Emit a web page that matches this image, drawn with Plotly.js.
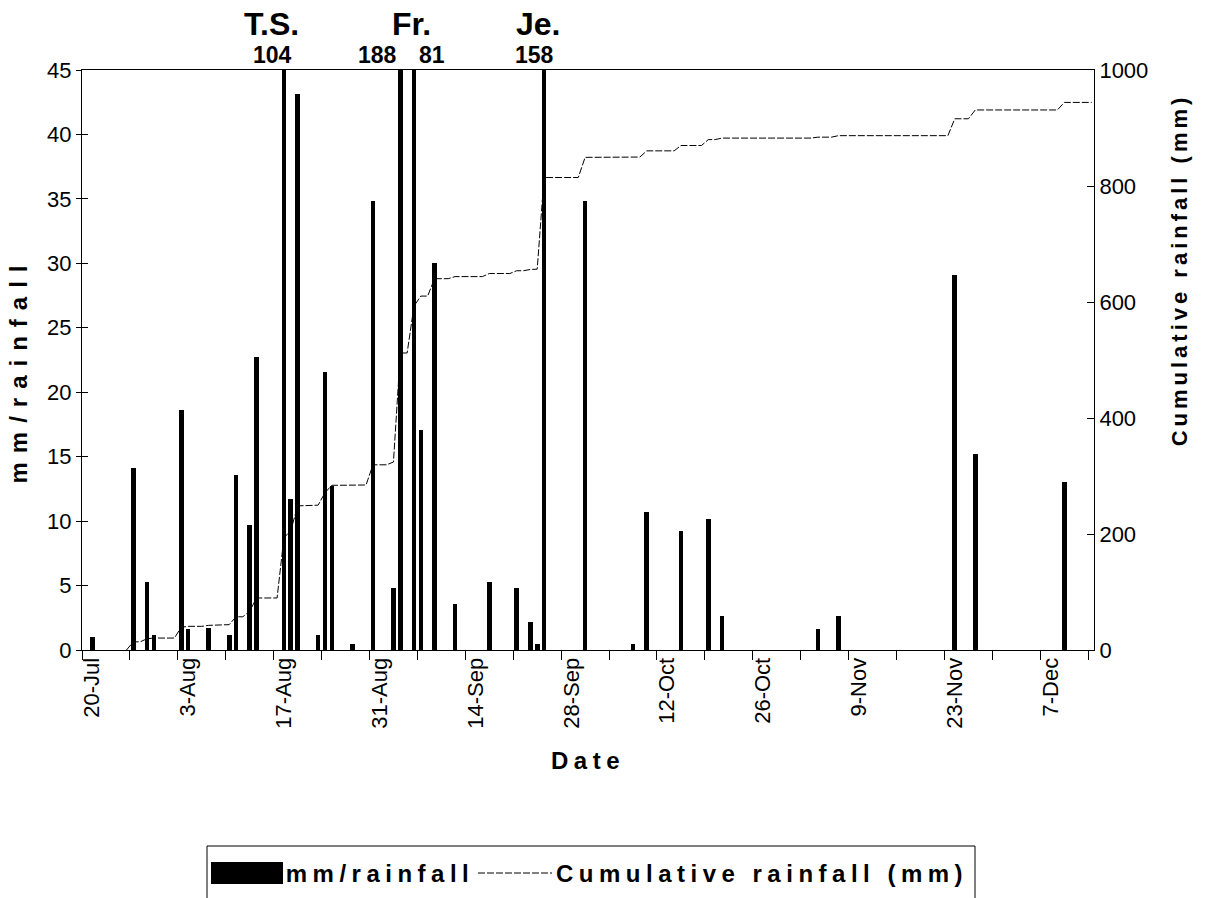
<!DOCTYPE html>
<html>
<head>
<meta charset="utf-8">
<script src="https://cdn.plot.ly/plotly-3.0.1.min.js"></script>
<style>
html,body{margin:0;padding:0;background:#fff;}
#chart{width:1208px;height:898px;}
</style>
</head>
<body>
<div id="chart"></div>
<script>
// ---------------- DATA ----------------
const rainDates = [
  '2004-07-20','2004-07-26','2004-07-28','2004-07-29','2004-08-02','2004-08-03',
  '2004-08-06','2004-08-09','2004-08-10','2004-08-12','2004-08-13','2004-08-17',
  '2004-08-18','2004-08-19','2004-08-22','2004-08-23','2004-08-24','2004-08-27',
  '2004-08-30','2004-09-02','2004-09-03','2004-09-05','2004-09-06','2004-09-08',
  '2004-09-11','2004-09-16','2004-09-20','2004-09-22','2004-09-23','2004-09-24',
  '2004-09-30','2004-10-07','2004-10-09','2004-10-14','2004-10-18','2004-10-20',
  '2004-11-03','2004-11-06','2004-11-23','2004-11-26','2004-12-09'
];
const rainMm = [
  1.0, 14.1, 5.3, 1.2, 18.6, 1.6,
  1.7, 1.2, 13.6, 9.7, 22.7, 104,
  11.7, 43.1, 1.2, 21.6, 12.7, 0.5,
  34.8, 4.8, 188, 81, 17.1, 30.0,
  3.6, 5.3, 4.8, 2.2, 0.5, 158,
  34.8, 0.5, 10.7, 9.2, 10.2, 2.6,
  1.6, 2.6, 29.1, 15.2, 13.0
];
// cumulative total is accumulated over this period
const cumStartDate = '2004-07-25';
const cumEndDate = '2004-12-13';

const tickDates = ['2004-07-20','2004-08-03','2004-08-17','2004-08-31','2004-09-14','2004-09-28',
                   '2004-10-12','2004-10-26','2004-11-09','2004-11-23','2004-12-07'];
const tickLabels = ['20-Jul','3-Aug','17-Aug','31-Aug','14-Sep','28-Sep',
                    '12-Oct','26-Oct','9-Nov','23-Nov','7-Dec'];

const stormNames = ['T.S.','Fr.','Je.'];
const stormDates = ['2004-08-17','2004-09-04','2004-09-24'];

// ---------------- LAYOUT HELPERS ----------------
const W = 1208, H = 898;
const PL = 82, PR = 1094, PT = 70, PB = 650;   // plot area in px
const px2x = p => (p - PL) / (PR - PL);
const px2y = p => (PB - p) / (PB - PT);
const DAY = 86400000;
const YMAX = 45;

// over-range label offsets (px) for bars clipped at the top
const overShift = [-11, -23, 18, -10];
const stormShift = [-12, 4, -6];

// cumulative series (daily running total)
const cumDates = [], cumVals = [];
{
  const rainByDay = {};
  rainDates.forEach((d, i) => rainByDay[d] = rainMm[i]);
  let t = new Date(cumStartDate + 'T00:00:00Z').getTime();
  const tEnd = new Date(cumEndDate + 'T00:00:00Z').getTime();
  let total = 0;
  while (t <= tEnd) {
    const ds = new Date(t).toISOString().slice(0, 10);
    total += rainByDay[ds] || 0;
    cumDates.push(ds);
    cumVals.push(total);
    t += DAY;
  }
}

const FONT = 'Liberation Sans, Arial, sans-serif';
const CUM_DASH = '7px,2px';

const traces = [
  {
    type: 'bar', name: 'mm/rainfall',
    x: rainDates, y: rainMm,
    width: 0.68 * DAY,
    marker: {color: '#000', line: {width: 0}},
    yaxis: 'y', showlegend: false
  },
  {
    type: 'scatter', mode: 'lines', name: 'Cumulative rainfall (mm)',
    x: cumDates, y: cumVals, yaxis: 'y2',
    line: {color: '#000', width: 1, dash: CUM_DASH},
    cliponaxis: true,
    showlegend: false
  },
  // empty helper trace so the inner tick marks of the left axis are drawn
  {type: 'scatter', mode: 'markers', x: [], y: [], yaxis: 'y3', showlegend: false, hoverinfo: 'skip'}
];

const annotations = [];
let k = 0;
rainDates.forEach((d, i) => {
  if (rainMm[i] > YMAX) {
    annotations.push({
      xref: 'x', yref: 'paper', x: d, y: 1, yanchor: 'bottom', xanchor: 'center',
      text: String(rainMm[i]), showarrow: false, xshift: overShift[k++], yshift: 0,
      font: {family: FONT, size: 23, color: '#000', weight: 'bold'}
    });
  }
});
stormNames.forEach((n, i) => {
  annotations.push({
    xref: 'x', yref: 'paper', x: stormDates[i], y: 1, yanchor: 'bottom', xanchor: 'center',
    text: n, showarrow: false, xshift: stormShift[i], yshift: 26,
    font: {family: FONT, size: 32, color: '#000', weight: 'bold'}
  });
});
// legend texts
annotations.push({
  xref: 'paper', yref: 'paper', x: px2x(380), y: px2y(873), xanchor: 'center', yanchor: 'middle',
  text: traces[0].name, showarrow: false,
  font: {family: FONT, size: 24, color: '#000', weight: 'bold'}
});
annotations.push({
  xref: 'paper', yref: 'paper', x: px2x(762), y: px2y(873), xanchor: 'center', yanchor: 'middle',
  text: traces[1].name, showarrow: false,
  font: {family: FONT, size: 24, color: '#000', weight: 'bold'}
});

const shapes = [
  {type: 'rect', xref: 'paper', yref: 'paper', x0: px2x(207), x1: px2x(975), y0: px2y(846), y1: px2y(910),
   line: {color: '#000', width: 1}, fillcolor: 'rgba(0,0,0,0)'},
  {type: 'rect', xref: 'paper', yref: 'paper', x0: px2x(211), x1: px2x(283), y0: px2y(862), y1: px2y(884),
   line: {width: 0}, fillcolor: '#000'},
  {type: 'line', xref: 'paper', yref: 'paper', x0: px2x(478), x1: px2x(552), y0: px2y(873), y1: px2y(873),
   line: {color: '#000', width: 1, dash: CUM_DASH}}
];

const layout = {
  width: W, height: H,
  margin: {l: PL, r: W - PR, t: PT, b: H - PB, pad: 0},
  paper_bgcolor: '#fff', plot_bgcolor: '#fff',
  font: {family: FONT, size: 22, color: '#000'},
  showlegend: false,
  bargap: 0,
  xaxis: {
    type: 'date',
    range: ['2004-07-18 12:00', '2004-12-13 08:15'],
    tickvals: tickDates, ticktext: tickLabels,
    tickangle: -90, ticks: '', ticklen: 0,
    ticklabelstandoff: -2,
    tickfont: {family: FONT, size: 22, color: '#000'},
    minor: {ticks: 'outside', ticklen: 9, tickwidth: 1, tickcolor: '#000',
            tick0: '2004-07-18 12:00', dtick: 7 * DAY, showgrid: false},
    showline: true, linecolor: '#000', linewidth: 1, mirror: true,
    showgrid: false, zeroline: false,
    title: {text: 'Date', font: {family: FONT, size: 24, weight: 'bold'}, standoff: 24},
    automargin: false
  },
  yaxis: {
    range: [0, YMAX], dtick: 5, tick0: 0,
    ticks: 'outside', ticklen: 5, tickwidth: 1, tickcolor: '#000',
    tickfont: {family: FONT, size: 22, color: '#000'},
    showline: true, linecolor: '#000', linewidth: 1,
    showgrid: false, zeroline: false,
    title: {text: 'mm/rainfall', font: {family: FONT, size: 24, weight: 'bold'}, standoff: 12},
    automargin: false
  },
  yaxis3: {
    overlaying: 'y', side: 'left', anchor: 'x',
    range: [0, YMAX], dtick: 5, tick0: 0,
    ticks: 'inside', ticklen: 6, tickwidth: 1, tickcolor: '#000',
    showticklabels: false, showline: false, showgrid: false, zeroline: false
  },
  yaxis2: {
    overlaying: 'y', side: 'right',
    range: [0, 1000], dtick: 200, tick0: 0,
    ticks: 'inside', ticklen: 7, tickwidth: 1, tickcolor: '#000',
    ticklabelstandoff: 0,
    tickfont: {family: FONT, size: 22, color: '#000'},
    showline: true, linecolor: '#000', linewidth: 1,
    showgrid: false, zeroline: false,
    title: {text: 'Cumulative rainfall (mm)', font: {family: FONT, size: 22, weight: 'bold'}, standoff: 24},
    automargin: false
  },
  annotations: annotations,
  shapes: shapes
};

// letter spacing (px) for bold texts
const textTweaks = {
  'mm/rainfall': 5.5,
  'Cumulative rainfall (mm)': 5.5,
  'Date': 5.5
};
const titleShift = {ytitle: 10, y2title: -90};

Plotly.newPlot('chart', traces, layout, {staticPlot: true}).then(gd => {
  gd.querySelectorAll('text').forEach(t => {
    const s = textTweaks[t.textContent];
    if (s !== undefined) t.setAttribute('letter-spacing', s + 'px');
  });
  const yt = gd.querySelector('.ytitle');
  if (yt) { yt.setAttribute('letter-spacing', '9px'); yt.setAttribute('transform', 'translate(0,' + titleShift.ytitle + ') ' + (yt.getAttribute('transform') || '')); }
  const y2t = gd.querySelector('.y2title');
  if (y2t) { y2t.setAttribute('letter-spacing', '4px'); y2t.setAttribute('transform', 'translate(0,' + titleShift.y2title + ') ' + (y2t.getAttribute('transform') || '')); }
});
</script>
</body>
</html>
